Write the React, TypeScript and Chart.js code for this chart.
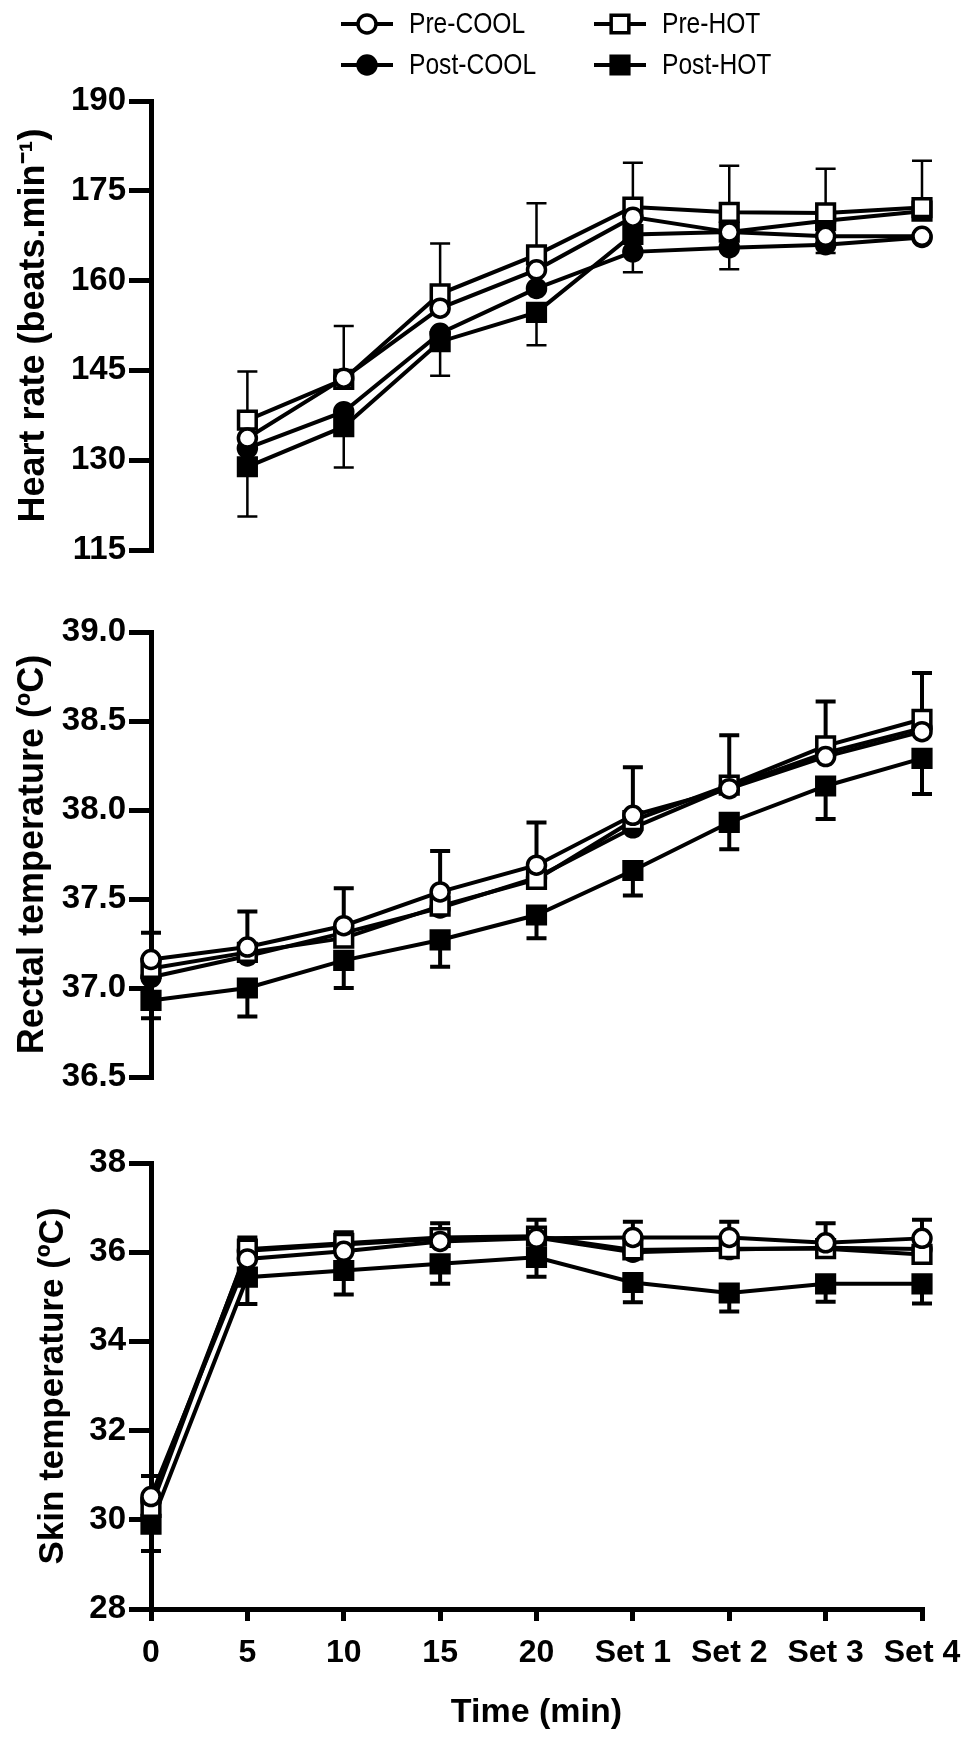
import { Chart, registerables } from "chart.js";
import { useEffect, useRef } from "react";

Chart.register(...registerables);

const FONT = "'Liberation Sans', Arial, Helvetica, sans-serif";

const categories = ["0", "5", "10", "15", "20", "Set 1", "Set 2", "Set 3", "Set 4"];

// heart rate, no reading at 0 min
const hrPreCool = [null, 133.7, 143.7, 155.4, 161.8, 170.6, 168.1, 167.4, 167.4];
const hrPreHot = [null, 136.7, 143.5, 157.8, 164.3, 172.3, 171.4, 171.3, 172.2];
const hrPostCool = [null, 132.0, 138.1, 151.2, 158.7, 164.8, 165.5, 166.0, 167.2];
const hrPostHot = [null, 128.9, 135.6, 149.8, 154.7, 167.7, 168.1, 170.0, 171.6];
const hrErrHigh = [null, 144.8, 152.4, 166.2, 172.9, 179.7, 179.2, 178.7, 180.0];
const hrErrLow = [null, 120.6, 128.8, 144.1, 149.2, 161.4, 161.9, 164.6, null];

// rectal temperature
const rePreCool = [37.16, 37.23, 37.35, 37.54, 37.69, 37.97, 38.12, 38.3, 38.44];
const rePreHot = [37.11, 37.2, 37.28, 37.46, 37.61, 37.94, 38.14, 38.36, 38.51];
const rePostCool = [37.06, 37.18, 37.31, 37.45, 37.62, 37.9, 38.13, 38.32, 38.46];
const rePostHot = [36.93, 37.0, 37.155, 37.27, 37.41, 37.66, 37.93, 38.135, 38.29];
const reErrHigh = [37.31, 37.43, 37.56, 37.77, 37.93, 38.24, 38.42, 38.61, 38.77];
const reErrLow = [36.83, 36.84, 37.0, 37.12, 37.28, 37.52, 37.78, 37.95, 38.09];

// skin temperature
const skPreCool = [30.52, 35.85, 36.02, 36.24, 36.31, 36.33, 36.33, 36.21, 36.31];
const skPreHot = [30.28, 36.07, 36.2, 36.33, 36.36, 36.05, 36.08, 36.08, 35.95];
const skPostCool = [30.42, 36.03, 36.17, 36.3, 36.33, 36.0, 36.06, 36.1, 36.07];
const skPostHot = [29.9, 35.44, 35.59, 35.74, 35.885, 35.32, 35.085, 35.29, 35.29];
const skErrHigh = [30.98, 36.33, 36.45, 36.65, 36.73, 36.68, 36.68, 36.65, 36.73];
const skErrLow = [29.3, 34.84, 35.05, 35.29, 35.45, 34.88, 34.67, 34.89, 34.85];

const hrTicks = { min: 115, max: 190, step: 15, decimals: 0 };
const reTicks = { min: 36.5, max: 39, step: 0.5, decimals: 1 };
const skTicks = { min: 28, max: 38, step: 2, decimals: 0 };

const seriesStyles = [
  { label: "Pre-COOL", pointStyle: "circle", fill: "#ffffff", radius: 9 },
  { label: "Pre-HOT", pointStyle: "rect", fill: "#ffffff", radius: 12.5 },
  { label: "Post-COOL", pointStyle: "circle", fill: "#000000", radius: 9 },
  { label: "Post-HOT", pointStyle: "rect", fill: "#000000", radius: 12.5 },
];

function drawMarker(ctx, style, x, y, r, fill) {
  ctx.beginPath();
  if (style === "rect") {
    const s = r * Math.SQRT1_2;
    ctx.rect(x - s, y - s, 2 * s, 2 * s);
  } else {
    ctx.arc(x, y, r, 0, Math.PI * 2);
  }
  ctx.fillStyle = fill;
  ctx.fill();
  ctx.lineWidth = 3.5;
  ctx.strokeStyle = "#000";
  ctx.stroke();
}

const errorBarPlugin = {
  id: "errorBars",
  beforeDatasetsDraw(chart, _args, opts) {
    const { ctx } = chart;
    const x = chart.scales.x;
    const y = chart.scales.y;
    const high = opts.high || [];
    const low = opts.low || [];
    ctx.save();
    ctx.strokeStyle = "#000";
    ctx.lineWidth = opts.lineWidth || 3;
    const whisker = (px, end, from) => {
      const ye = y.getPixelForValue(end);
      const yf = y.getPixelForValue(from);
      ctx.beginPath();
      ctx.moveTo(px, yf);
      ctx.lineTo(px, ye);
      ctx.moveTo(px - 10, ye);
      ctx.lineTo(px + 10, ye);
      ctx.stroke();
    };
    categories.forEach((_, i) => {
      const vals = chart.data.datasets.map((d) => d.data[i]).filter((v) => v != null);
      if (!vals.length) return;
      const px = x.getPixelForValue(i);
      if (high[i] != null) whisker(px, high[i], Math.max(...vals));
      if (low[i] != null) whisker(px, low[i], Math.min(...vals));
    });
    ctx.restore();
  },
};

const legendPlugin = {
  id: "topLegend",
  afterDraw(chart) {
    const ctx = chart.ctx;
    const slots = [
      [367, 24],
      [620, 24],
      [367, 65],
      [620, 65],
    ];
    chart.data.datasets.forEach((ds, i) => {
      const [cx, cy] = slots[i];
      ctx.save();
      ctx.strokeStyle = "#000";
      ctx.lineWidth = 4;
      ctx.beginPath();
      ctx.moveTo(cx - 26, cy);
      ctx.lineTo(cx + 26, cy);
      ctx.stroke();
      drawMarker(ctx, ds.pointStyle, cx, cy, ds.pointRadius, ds.pointBackgroundColor);
      ctx.font = `30px ${FONT}`;
      ctx.fillStyle = "#000";
      ctx.textBaseline = "middle";
      ctx.translate(cx + 42, cy);
      ctx.scale(0.82, 1);
      ctx.fillText(ds.label, 0, 1);
      ctx.restore();
    });
  },
};

function makeConfig({ series, high, low, ticks, title, titleSize, titlePad, padding, showX, errWidth, legend }) {
  return {
    type: "line",
    data: {
      labels: categories,
      datasets: series.map((values, i) => ({
        label: seriesStyles[i].label,
        data: values,
        borderColor: "#000",
        borderWidth: 4,
        pointStyle: seriesStyles[i].pointStyle,
        pointRadius: seriesStyles[i].radius,
        pointBackgroundColor: seriesStyles[i].fill,
        pointBorderColor: "#000",
        pointBorderWidth: 3.5,
        tension: 0,
        spanGaps: false,
        clip: false,
      })),
    },
    plugins: legend ? [errorBarPlugin, legendPlugin] : [errorBarPlugin],
    options: {
      responsive: false,
      animation: false,
      events: [],
      layout: { padding },
      plugins: {
        legend: { display: false },
        tooltip: { enabled: false },
        errorBars: { high, low, lineWidth: errWidth },
      },
      scales: {
        x: {
          type: "category",
          offset: false,
          display: showX,
          ticks: {
            color: "#000",
            autoSkip: false,
            maxRotation: 0,
            padding: 13,
            font: { family: FONT, size: 32, weight: "bold" },
          },
          grid: {
            drawOnChartArea: false,
            drawTicks: true,
            tickLength: 12,
            tickWidth: 5,
            lineWidth: 5,
            tickColor: "#000",
          },
          border: { display: true, width: 5, color: "#000" },
          title: {
            display: true,
            text: "Time (min)",
            color: "#000",
            font: { family: FONT, size: 34, weight: "bold" },
            padding: { top: 0, bottom: 13 },
          },
          afterFit: (s) => {
            s.height = showX ? 137 : 0;
          },
        },
        y: {
          min: ticks.min,
          max: ticks.max,
          ticks: {
            stepSize: ticks.step,
            color: "#000",
            padding: 3,
            font: { family: FONT, size: 33, weight: "bold" },
            callback: (v) => Number(v).toFixed(ticks.decimals),
          },
          grid: {
            drawOnChartArea: false,
            drawTicks: true,
            tickLength: 22,
            tickWidth: 5,
            lineWidth: 5,
            tickColor: "#000",
          },
          border: { display: true, width: 5, color: "#000" },
          title: {
            display: true,
            text: title,
            color: "#000",
            font: { family: FONT, size: titleSize, weight: "bold" },
            padding: { top: titlePad, bottom: 0 },
          },
          afterFit: (s) => {
            s.width = 151;
          },
        },
      },
    },
  };
}

export default function App() {
  const hrRef = useRef(null);
  const reRef = useRef(null);
  const skRef = useRef(null);

  useEffect(() => {
    const charts = [
      new Chart(
        hrRef.current,
        makeConfig({
          series: [hrPreCool, hrPreHot, hrPostCool, hrPostHot],
          high: hrErrHigh,
          low: hrErrLow,
          ticks: hrTicks,
          title: "Heart rate (beats.min\u207B\u00B9)",
          titleSize: 36,
          titlePad: 12,
          padding: { top: 101, bottom: 30, left: 0, right: 52 },
          showX: false,
          errWidth: 2.5,
          legend: true,
        })
      ),
      new Chart(
        reRef.current,
        makeConfig({
          series: [rePreCool, rePreHot, rePostCool, rePostHot],
          high: reErrHigh,
          low: reErrLow,
          ticks: reTicks,
          title: "Rectal temperature (\u00BAC)",
          titleSize: 36,
          titlePad: 11,
          padding: { top: 52, bottom: 33, left: 0, right: 52 },
          showX: false,
          errWidth: 4,
          legend: false,
        })
      ),
      new Chart(
        skRef.current,
        makeConfig({
          series: [skPreCool, skPreHot, skPostCool, skPostHot],
          high: skErrHigh,
          low: skErrLow,
          ticks: skTicks,
          title: "Skin temperature (\u00BAC)",
          titleSize: 35,
          titlePad: 32,
          padding: { top: 53, bottom: 0, left: 0, right: 52 },
          showX: true,
          errWidth: 4,
          legend: false,
        })
      ),
    ];
    return () => charts.forEach((c) => c.destroy());
  }, []);

  return (
    <div style={{ position: "absolute", left: 0, top: 0, width: 974, height: 1746, background: "#fff" }}>
      <canvas ref={hrRef} width={974} height={580} style={{ position: "absolute", left: 0, top: 0 }} />
      <canvas ref={reRef} width={974} height={530} style={{ position: "absolute", left: 0, top: 580 }} />
      <canvas ref={skRef} width={974} height={636} style={{ position: "absolute", left: 0, top: 1110 }} />
    </div>
  );
}
